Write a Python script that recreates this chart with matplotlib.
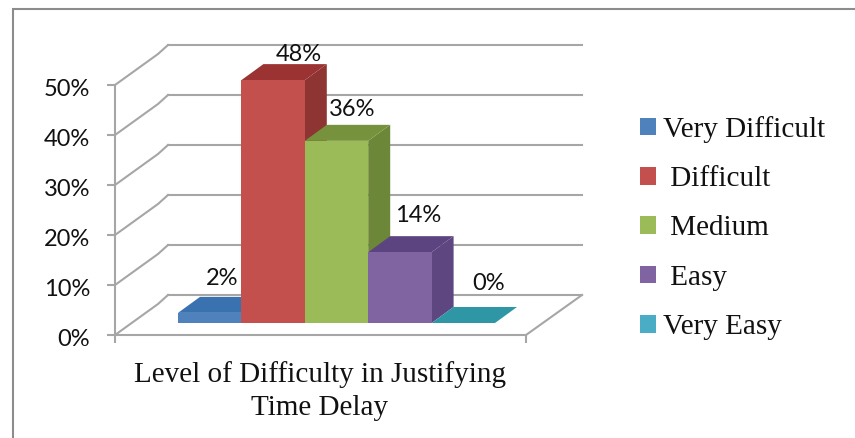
import matplotlib
matplotlib.use('Agg')
import matplotlib.pyplot as plt
from matplotlib.patches import Patch, Polygon, Rectangle
from matplotlib.transforms import ScaledTranslation

# Data
categories = ['Very Difficult', ' Difficult', ' Medium', ' Easy', 'Very Easy']
values = [2, 48, 36, 14, 0]
y_ticks = [0, 10, 20, 30, 40, 50]
axis_title = 'Level of Difficulty in Justifying\nTime Delay'

# Colours: front, top, side of each bar
front = ['#4F81BD', '#C4504E', '#9BBB59', '#8064A2', '#4BACC6']
top = ['#3A72B0', '#9A3331', '#76923C', '#5C4480', '#2F96A5']
side = ['#34669E', '#8E3533', '#6C8738', '#5E4680', '#2A8896']
grid_col = '#A6A6A6'

# label nudges in px, the labels were placed by hand in the original
label_dx = [-10, 4, -6, -4, 3]
label_dy = [18, 10, 15, 21, 23]

W, H = 855, 438
fig = plt.figure(figsize=(W / 100, H / 100), dpi=100)
plt.rcParams['font.family'] = 'Lato'

# outer frame, right and bottom run off the picture
fig.add_artist(Rectangle((13 / W, -0.1), 1, 1.1 - 9 / H, transform=fig.transFigure,
                         fill=False, ec='#8C8C8C', lw=1.5))

# axes box in pixels: x 115-526, y 335-85
ax = fig.add_axes([115 / W, (H - 335) / H, (526 - 115) / W, 250 / H])
bar_w = 63.4          # px per bar
xmax = 411 / bar_w
ax.set_xlim(0, xmax)
ax.set_ylim(0, 50)
ax.patch.set_alpha(0)

# offsets of the 3d look, in data units
wall_dx = 53 / bar_w
wall_dy = 40 / 5
floor_x = 63 / bar_w
floor_y = 12 / 5
depth_x = 22 / bar_w
depth_y = 16 / 5
scale = 5.06 / 5

# back wall grid lines and the slanted part on the side wall
for t in y_ticks:
    ax.plot([0, 43 / bar_w, wall_dx], [t, t + 31 / 5, t + wall_dy], color=grid_col, lw=1.5, clip_on=False)
    ax.plot([wall_dx, xmax + 56 / bar_w], [t + wall_dy, t + wall_dy], color=grid_col, lw=1.5, clip_on=False)
# right edge of floor
ax.plot([xmax, xmax + 56 / bar_w], [0, wall_dy], color=grid_col, lw=1.5, clip_on=False)

# bars
for i, v in enumerate(values):
    x0 = floor_x + i
    x1 = x0 + 1
    y0 = floor_y
    y1 = floor_y + v * scale
    ax.add_patch(Polygon([(x1, y0), (x1 + depth_x, y0 + depth_y), (x1 + depth_x, y1 + depth_y), (x1, y1)],
                         fc=side[i], ec='none', clip_on=False, zorder=3 + i))
    ax.add_patch(Polygon([(x0, y1), (x1, y1), (x1 + depth_x, y1 + depth_y), (x0 + depth_x, y1 + depth_y)],
                         fc=top[i], ec='none', clip_on=False, zorder=3 + i))
    ax.add_patch(Rectangle((x0, y0), 1, v * scale, fc=front[i], ec='none', clip_on=False, zorder=3 + i))

# value labels
for i, v in enumerate(values):
    lx = floor_x + i + 0.5 + depth_x + label_dx[i] / bar_w
    ly = floor_y + v * scale + depth_y + label_dy[i] / 5
    ax.text(lx, ly, f'{v}%', ha='center', va='center', fontsize=17, color='#111111', zorder=10, clip_on=False)

# axes
for s in ['top', 'right']:
    ax.spines[s].set_visible(False)
for s in ['left', 'bottom']:
    ax.spines[s].set_color(grid_col)
    ax.spines[s].set_linewidth(1.5)
ax.set_yticks(y_ticks)
ax.set_yticklabels([f'{t}%' for t in y_ticks], fontsize=17, color='#111111')
ax.set_xticks([0, xmax])
ax.set_xticklabels([])
ax.tick_params(axis='both', color=grid_col, width=1.5, length=6, pad=12)
ax.set_zorder(2)

# tick labels sit a little below their ticks
nudge = ScaledTranslation(0, -2 / 100, fig.dpi_scale_trans)
for lab in ax.get_yticklabels():
    lab.set_transform(lab.get_transform() + nudge)

fig.text(320 / W, 1 - 391 / H, axis_title, ha='center', va='center', fontsize=21,
         family='Liberation Serif', color='#111111', linespacing=1.32)

# legend
handles = [Patch(fc=c, ec='none') for c in front]
fig.legend(handles, categories, loc='center left', bbox_to_anchor=(640 / W, 1 - 228 / H), frameon=False,
           prop={'family': 'Liberation Serif', 'size': 21}, handlelength=0.55, handleheight=0.55,
           handletextpad=0.24, labelspacing=0.8, borderpad=0, borderaxespad=0, labelcolor='#111111')

fig.savefig('out.png', dpi=100)
